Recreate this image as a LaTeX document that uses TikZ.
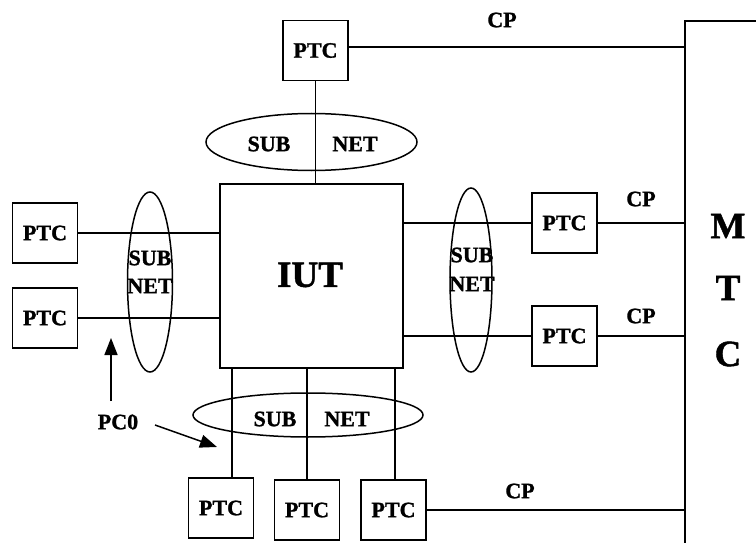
\documentclass[tikz,border=0pt]{standalone}
\usepackage{fontspec}
\setmainfont{Liberation Serif}[BoldFeatures={FakeBold=1.2}]
\usetikzlibrary{shapes.geometric,arrows.meta}
\begin{document}
\begin{tikzpicture}[x=1pt,y=-1pt,line width=1.5pt,
  ptcbox/.style={draw,rectangle,minimum width=65pt,minimum height=60pt,inner sep=0pt,font=\fontsize{22}{22}\selectfont\bfseries},
  lbl/.style={font=\fontsize{22}{22}\selectfont\bfseries,inner sep=0pt},
  big/.style={font=\fontsize{37}{37}\selectfont\bfseries,inner sep=0pt},
  subnet/.style={draw,ellipse,inner sep=0pt},
  arr/.style={-{Triangle[length=17pt,width=13pt]}}]
\useasboundingbox (0,0) rectangle (756,543);
% MTC frame
\coordinate (mtctop) at (685,21);
\coordinate (mtcbot) at (685,560);
\coordinate (mtcright) at (770,21);
\draw (mtcbot) -- (mtctop) -- (mtcright);
\node[big] (M) at (728,226) {M};
\node[big] (T) at (728,288) {T};
\node[big] (C) at (728,354) {C};
% IUT
\node[draw,rectangle,minimum width=183pt,minimum height=184pt,inner sep=0pt] (iut) at (311.5,276) {};
\node[big] (iutl) at (310,275) {IUT};
% top
\node[ptcbox] (ptcT) at (315.5,50.5) {PTC};
\node[subnet,minimum width=211pt,minimum height=57pt] (snT) at (311.5,142) {};
\coordinate (mT1) at (685,47);
\draw (ptcT.east |- mT1) -- (mT1);
\node[lbl] (cpT) at (502,20) {CP};
\draw (ptcT.south) -- (iut.north -| ptcT.south);
\node[lbl] (snTa) at (269,144) {SUB};
\node[lbl] (snTb) at (355,144) {NET};
% left
\node[ptcbox] (ptcL1) at (45,233) {PTC};
\node[ptcbox] (ptcL2) at (45,318) {PTC};
\draw (ptcL1.east) -- (ptcL1.east -| iut.west);
\draw (ptcL2.east) -- (ptcL2.east -| iut.west);
\node[subnet,minimum width=45pt,minimum height=180pt] (snL) at (150,282) {};
\node[lbl] (snLa) at (150,258) {SUB};
\node[lbl] (snLb) at (150,286) {NET};
% right
\node[ptcbox] (ptcR1) at (564.5,223) {PTC};
\node[ptcbox] (ptcR2) at (564.5,336) {PTC};
\draw (ptcR1.west) -- (ptcR1.west -| iut.east);
\draw (ptcR2.west) -- (ptcR2.west -| iut.east);
\draw (ptcR1.east) -- (ptcR1.east -| mtctop);
\draw (ptcR2.east) -- (ptcR2.east -| mtctop);
\node[lbl] (cpR1) at (641,199) {CP};
\node[lbl] (cpR2) at (641,316) {CP};
\node[subnet,minimum width=42pt,minimum height=184pt] (snR) at (471,280) {};
\node[lbl] (snRa) at (472,255) {SUB};
\node[lbl] (snRb) at (472,284) {NET};
% bottom
\node[ptcbox] (ptcB1) at (221,508) {PTC};
\node[ptcbox] (ptcB2) at (307,510) {PTC};
\node[ptcbox] (ptcB3) at (393.5,510) {PTC};
\coordinate (b1) at (232,478);
\draw (b1 |- iut.south) -- (b1);
\draw (ptcB2.north |- iut.south) -- (ptcB2.north);
\coordinate (b3) at (395,480);
\draw (b3 |- iut.south) -- (b3);
\draw (ptcB3.east) -- (ptcB3.east -| mtctop);
\node[lbl] (cpB) at (520,491) {CP};
\node[subnet,minimum width=230pt,minimum height=44pt] (snB) at (308,415) {};
\node[lbl] (snBa) at (275,419) {SUB};
\node[lbl] (snBb) at (347,419) {NET};
% PC0
\node[lbl] (pc0) at (118,422) {PC0};
\coordinate (a1s) at (111,401);
\coordinate (a1e) at (111,338);
\draw[arr] (a1s) -- (a1e);
\coordinate (a2s) at (155,425);
\coordinate (a2e) at (217,447);
\draw[arr] (a2s) -- (a2e);
\end{tikzpicture}
\end{document}
